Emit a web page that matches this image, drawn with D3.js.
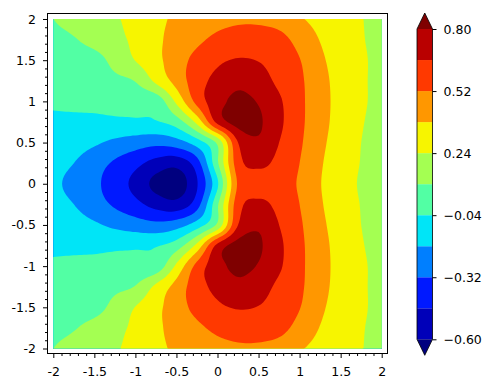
<!DOCTYPE html>
<html>
<head>
<meta charset="utf-8">
<script src="https://cdn.jsdelivr.net/npm/d3@7"></script>
<style>
  body { margin: 0; background: #fff; }
  svg text { font-family: "DejaVu Sans", sans-serif; font-size: 12.5px; fill: #000; }
</style>
</head>
<body>
<svg id="chart" width="494" height="388"></svg>
<script>
// grid coordinates of the sampled field
const xs = [-2, -1.75, -1.5, -1.25, -1, -0.75, -0.5, -0.25, 0, 0.25, 0.5, 0.75, 1, 1.25, 1.5, 1.75, 2];
const ys = [2, 1.75, 1.5, 1.25, 1, 0.75, 0.5, 0.25, 0, -0.25, -0.5, -0.75, -1, -1.25, -1.5, -1.75, -2];

// field values, one row per y (top to bottom)
const zRows = [
  [0.10, 0.14, 0.18, 0.225, 0.285, 0.35, 0.40, 0.44, 0.475, 0.495, 0.495, 0.465, 0.395, 0.335, 0.29, 0.245, 0.20],
  [0.07, 0.092, 0.143, 0.20, 0.27, 0.353, 0.426, 0.493, 0.55, 0.58, 0.58, 0.56, 0.475, 0.375, 0.31, 0.25, 0.20],
  [0.035, 0.045, 0.057, 0.14, 0.244, 0.341, 0.458, 0.56, 0.635, 0.67, 0.655, 0.60, 0.525, 0.405, 0.325, 0.26, 0.20],
  [0.0, 0.022, 0.045, 0.07, 0.107, 0.27, 0.43, 0.60, 0.70, 0.765, 0.72, 0.63, 0.545, 0.425, 0.333, 0.26, 0.20],
  [-0.025, -0.018, -0.012, -0.005, 0.0, 0.01, 0.268, 0.564, 0.75, 0.83, 0.79, 0.68, 0.553, 0.432, 0.335, 0.26, 0.20],
  [-0.06, -0.062, -0.065, -0.062, -0.06, -0.05, 0.03, 0.28, 0.70, 0.85, 0.82, 0.69, 0.553, 0.428, 0.33, 0.25, 0.195],
  [-0.09, -0.12, -0.16, -0.21, -0.25, -0.28, -0.24, -0.11, 0.13, 0.66, 0.78, 0.66, 0.54, 0.412, 0.32, 0.24, 0.19],
  [-0.13, -0.18, -0.26, -0.34, -0.42, -0.51, -0.55, -0.38, 0.08, 0.60, 0.69, 0.62, 0.52, 0.395, 0.31, 0.235, 0.18],
  [-0.15, -0.22, -0.29, -0.39, -0.50, -0.64, -0.68, -0.47, -0.06, 0.54, 0.60, 0.58, 0.505, 0.385, 0.305, 0.225, 0.17],
  [-0.13, -0.18, -0.26, -0.34, -0.42, -0.51, -0.55, -0.38, 0.08, 0.60, 0.69, 0.62, 0.52, 0.395, 0.31, 0.235, 0.18],
  [-0.09, -0.12, -0.16, -0.21, -0.25, -0.28, -0.24, -0.11, 0.13, 0.66, 0.78, 0.66, 0.54, 0.412, 0.32, 0.24, 0.19],
  [-0.06, -0.062, -0.065, -0.062, -0.06, -0.05, 0.03, 0.28, 0.70, 0.85, 0.82, 0.69, 0.553, 0.428, 0.33, 0.25, 0.195],
  [-0.025, -0.018, -0.012, -0.005, 0.0, 0.01, 0.268, 0.564, 0.75, 0.83, 0.79, 0.68, 0.553, 0.432, 0.335, 0.26, 0.20],
  [0.0, 0.022, 0.045, 0.07, 0.107, 0.27, 0.43, 0.60, 0.70, 0.765, 0.72, 0.63, 0.545, 0.425, 0.333, 0.26, 0.20],
  [0.035, 0.045, 0.057, 0.14, 0.244, 0.341, 0.458, 0.56, 0.635, 0.67, 0.655, 0.60, 0.525, 0.405, 0.325, 0.26, 0.20],
  [0.07, 0.092, 0.143, 0.20, 0.27, 0.353, 0.426, 0.493, 0.55, 0.58, 0.58, 0.56, 0.475, 0.375, 0.31, 0.25, 0.20],
  [0.10, 0.14, 0.18, 0.225, 0.285, 0.35, 0.40, 0.44, 0.475, 0.495, 0.495, 0.465, 0.395, 0.335, 0.29, 0.245, 0.20]
];

const levels = [-0.60, -0.46, -0.32, -0.18, -0.04, 0.10, 0.24, 0.38, 0.52, 0.66, 0.80];
// under, 10 bands, over (jet)
const bandColors = ["#00007f", "#0000b9", "#0019ff", "#007fff", "#00e5f7", "#52ffa4",
                    "#a4ff52", "#f7f500", "#ff9700", "#ff3900", "#b90000", "#7f0000"];
const cbTicks = [-0.60, -0.32, -0.04, 0.24, 0.52, 0.80];
const axisTicks = [-2, -1.5, -1, -0.5, 0, 0.5, 1, 1.5, 2];

const svg = d3.select("#chart");

/* scales */
const x = d3.scaleLinear().domain([-2, 2]).range([53.3, 381.7]);
const y = d3.scaleLinear().domain([-2, 2]).range([348.5, 19]);

// smooth resampling of the grid for drawing (catmull-rom)
const K = 8;
function resample(v) {
  const n = v.length, out = [];
  const at = i => i < 0 ? 2 * v[0] - v[1] : i >= n ? 2 * v[n - 1] - v[n - 2] : v[i];
  for (let i = 0; i < n - 1; i++) {
    const p0 = at(i - 1), p1 = v[i], p2 = v[i + 1], p3 = at(i + 2);
    for (let k = 0; k < K; k++) {
      const t = k / K;
      out.push(0.5 * (2 * p1 + (-p0 + p2) * t + (2 * p0 - 5 * p1 + 4 * p2 - p3) * t * t +
                      (-p0 + 3 * p1 - 3 * p2 + p3) * t * t * t));
    }
  }
  out.push(v[n - 1]);
  return out;
}
const rowsFine = zRows.map(resample);
const nxF = rowsFine[0].length;
const colsFine = d3.range(nxF).map(i => resample(rowsFine.map(r => r[i])));
const nyF = colsFine[0].length;
const fine = new Float64Array(nxF * nyF);
for (let i = 0; i < nxF; i++) for (let j = 0; j < nyF; j++) fine[i + j * nxF] = colsFine[i][j];

// d3.contours puts sample i at i + 0.5
const gx = d3.scaleLinear().domain([0.5, nxF - 0.5]).range([x(xs[0]), x(xs[xs.length - 1])]);
const gy = d3.scaleLinear().domain([0.5, nyF - 0.5]).range([y(ys[0]), y(ys[ys.length - 1])]);

const bands = d3.contours().size([nxF, nyF]).thresholds(levels)(fine);

const ringLine = d3.line()
  .x(p => gx(p[0]))
  .y(p => gy(p[1]))
  .curve(d3.curveLinearClosed);

const toPath = mp => mp.coordinates
  .map(poly => poly.map(ring => ringLine(ring.slice(0, -1))).join(""))
  .join("");

svg.append("clipPath").attr("id", "plotclip")
  .append("rect")
  .attr("x", x(-2)).attr("y", y(2))
  .attr("width", x(2) - x(-2)).attr("height", y(-2) - y(2));

const plot = svg.append("g").attr("clip-path", "url(#plotclip)");
plot.append("rect")
  .attr("x", x(-2)).attr("y", y(2))
  .attr("width", x(2) - x(-2)).attr("height", y(-2) - y(2))
  .attr("fill", bandColors[0]);

plot.selectAll("path.band")
  .data(bands)
  .join("path")
  .attr("class", "band")
  .attr("d", toPath)
  .attr("fill-rule", "evenodd")
  .attr("fill", (d, i) => bandColors[i + 1]);

/* frame */
svg.append("rect")
  .attr("x", 47.5).attr("y", 13.5).attr("width", 340).attr("height", 340)
  .attr("fill", "none").attr("stroke", "#000").attr("stroke-width", 1);

/* axes */
const minor = d3.range(-20, 21).map(v => v / 10).filter(v => Math.abs(v * 2 - Math.round(v * 2)) > 1e-6);
const fmt = d => String(d);

const xg = svg.append("g").attr("transform", "translate(0,353.5)");
xg.call(d3.axisBottom(x).tickValues(axisTicks).tickSize(4.5).tickFormat(fmt));
xg.append("g").call(d3.axisBottom(x).tickValues(minor).tickSize(2.5).tickFormat(""));
xg.selectAll(".domain").remove();
xg.selectAll("text").attr("y", 22.5).attr("dy", null).style("font-size", "12.5px");

const yg = svg.append("g").attr("transform", "translate(47.5,0)");
yg.call(d3.axisLeft(y).tickValues(axisTicks).tickSize(4.5).tickPadding(7).tickFormat(fmt));
yg.append("g").call(d3.axisLeft(y).tickValues(minor).tickSize(2.5).tickFormat(""));
yg.selectAll(".domain").remove();
yg.selectAll("text").style("font-size", "12.5px");

/* colorbar */
const cbx = 417, cbw = 15.5;
const yc = d3.scaleLinear().domain([levels[0], levels[levels.length - 1]]).range([339.3, 29]);
const cb = svg.append("g");
cb.selectAll("rect")
  .data(d3.range(levels.length - 1))
  .join("rect")
  .attr("x", cbx).attr("width", cbw)
  .attr("y", i => yc(levels[i + 1]))
  .attr("height", i => yc(levels[i]) - yc(levels[i + 1]))
  .attr("fill", i => bandColors[i + 1]);
const cbTop = yc(levels[levels.length - 1]), cbBot = yc(levels[0]);
cb.append("path")
  .attr("d", `M${cbx},${cbTop}L${cbx + cbw / 2},${cbTop - 16}L${cbx + cbw},${cbTop}Z`)
  .attr("fill", bandColors[bandColors.length - 1]);
cb.append("path")
  .attr("d", `M${cbx},${cbBot}L${cbx + cbw / 2},${cbBot + 16}L${cbx + cbw},${cbBot}Z`)
  .attr("fill", bandColors[0]);
cb.append("path")
  .attr("d", `M${cbx},${cbTop}L${cbx + cbw / 2},${cbTop - 16}L${cbx + cbw},${cbTop}L${cbx + cbw},${cbBot}L${cbx + cbw / 2},${cbBot + 16}L${cbx},${cbBot}Z`)
  .attr("fill", "none").attr("stroke", "#000").attr("stroke-width", 0.8);

const cg = svg.append("g").attr("transform", `translate(${cbx + cbw},0)`);
cg.call(d3.axisRight(yc).tickValues(cbTicks).tickSize(4).tickPadding(7).tickFormat(d3.format(".2f")));
cg.selectAll(".domain").remove();
cg.selectAll("text").style("font-size", "12.5px");
</script>
</body>
</html>
